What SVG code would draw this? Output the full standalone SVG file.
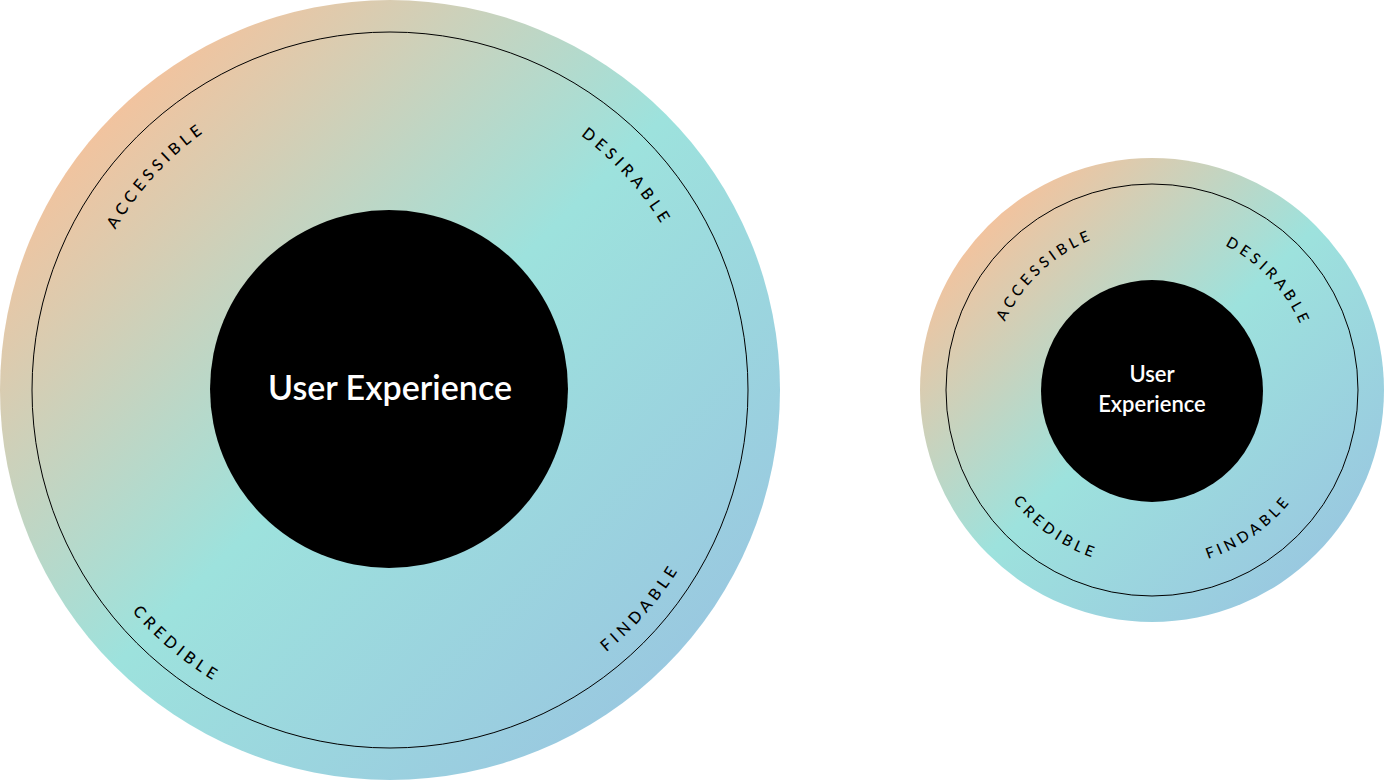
<svg xmlns="http://www.w3.org/2000/svg" width="1384" height="780" viewBox="0 0 1384 780">
<style>
.lbl{font-family:Lato,"Open Sans",sans-serif;font-size:16px;letter-spacing:4.5px;fill:#000;font-weight:500}
.sl{font-size:15px;letter-spacing:4px}
.ring{fill:none;stroke:#000;stroke-width:1}
.ux{font-family:Lato,"Open Sans",sans-serif;fill:#fff;font-weight:600;text-anchor:middle}
</style>
<defs>
<linearGradient id="g" x1="0.12" y1="0.12" x2="0.88" y2="0.88">
<stop offset="0" stop-color="#F8C19A"/>
<stop offset="0.5" stop-color="#9DE2DD"/>
<stop offset="1" stop-color="#99C7E0"/>
</linearGradient>
<path id="b1" d="M72.3,376.1 A318,318 0 0 1 348.5,74.7"/>
<path id="b2" d="M434.3,75.1 A318,318 0 0 1 707.8,378.9"/>
<path id="b3" d="M55.2,449 A340,340 0 0 0 390,730"/>
<path id="b4" d="M443.2,725.8 A340,340 0 0 0 729.9,395.9"/>
<path id="s1" d="M991.2,370.3 A162,162 0 0 1 1143.5,228.2"/>
<path id="s2" d="M1171.7,229.2 A162,162 0 0 1 1313.8,381.5"/>
<path id="s3" d="M980.1,436.1 A178,178 0 0 0 1167.5,567.3"/>
<path id="s4" d="M1136.5,567.3 A178,178 0 0 0 1323.9,436.1"/>
</defs>
<g id="big">
<circle cx="390" cy="390" r="390" fill="url(#g)"/>
<circle class="ring" cx="390" cy="390" r="358"/>
<circle cx="389" cy="389" r="179" fill="#000"/>
<text class="ux" x="390" y="400" font-size="34">User Experience</text>
<text class="lbl" text-anchor="middle"><textPath href="#b1" startOffset="50%">ACCESSIBLE</textPath></text>
<text class="lbl" text-anchor="middle"><textPath href="#b2" startOffset="50%">DESIRABLE</textPath></text>
<text class="lbl" text-anchor="middle"><textPath href="#b3" startOffset="50%">CREDIBLE</textPath></text>
<text class="lbl" text-anchor="middle"><textPath href="#b4" startOffset="50%">FINDABLE</textPath></text>
</g>
<g id="small">
<circle cx="1152" cy="390" r="232" fill="url(#g)"/>
<circle class="ring" cx="1152" cy="390" r="206"/>
<circle cx="1152" cy="391" r="111" fill="#000"/>
<text class="ux" x="1152" y="382" font-size="22">User</text>
<text class="ux" x="1152" y="412" font-size="22">Experience</text>
<text class="lbl sl" text-anchor="middle"><textPath href="#s1" startOffset="50%">ACCESSIBLE</textPath></text>
<text class="lbl sl" text-anchor="middle"><textPath href="#s2" startOffset="50%">DESIRABLE</textPath></text>
<text class="lbl sl" text-anchor="middle"><textPath href="#s3" startOffset="50%">CREDIBLE</textPath></text>
<text class="lbl sl" text-anchor="middle"><textPath href="#s4" startOffset="50%">FINDABLE</textPath></text>
</g>
<g id="connectors"/>
</svg>
